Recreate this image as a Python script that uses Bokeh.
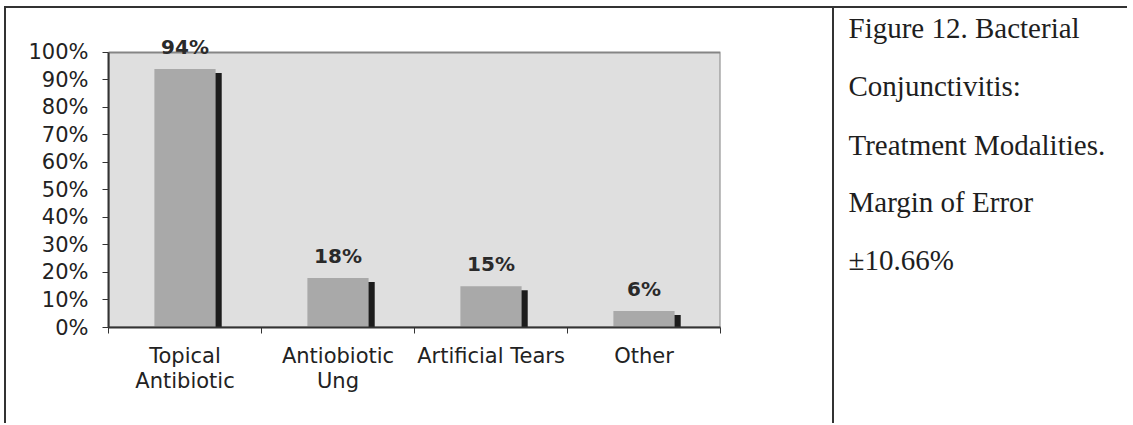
from bokeh.plotting import figure
from bokeh.layouts import row
from bokeh.models import (ColumnDataSource, FixedTicker, NumeralTickFormatter, LabelSet,
                          Label, Range1d)
from bokeh.transform import dodge
from bokeh.core.properties import value
from bokeh.embed import file_html
from bokeh.resources import INLINE

# ---- data ----
categories = ["Topical\nAntibiotic", "Antiobiotic\nUng", "Artificial Tears", "Other"]
values = [0.94, 0.18, 0.15, 0.06]
value_labels = ["94%", "18%", "15%", "6%"]
y_ticks = [0.0, 0.1, 0.2, 0.3, 0.4, 0.5, 0.6, 0.7, 0.8, 0.9, 1.0]
caption_lines = ["Figure 12. Bacterial", "Conjunctivitis:", "Treatment Modalities.",
                 "Margin of Error", "\u00b110.66%"]

positions = [i + 0.5 for i in range(len(categories))]
boundaries = list(range(len(categories) + 1))
src = ColumnDataSource(dict(x=positions, top=values, label=value_labels))

BORDER = "2px solid #333333"
H = 415
TOP, BOTTOM = 4, 96

p = figure(width=828, height=H, x_range=Range1d(0, len(categories)), y_range=Range1d(0, 1.145),
           output_backend="svg", toolbar_location=None,
           min_border_left=102, min_border_right=114, min_border_top=TOP,
           min_border_bottom=BOTTOM, styles={"border-left": BORDER})
p.background_fill_color = "white"
p.border_fill_color = "white"
p.outline_line_color = None
p.grid.visible = False

# plot area
p.quad(left=0, right=len(categories), bottom=0, top=1, fill_color="#dfdfdf",
       line_color="#858585", line_width=2)
# shadow bars
p.vbar(x=dodge("x", 0.04), top=dodge("top", -0.015), bottom=-0.02, width=0.4,
       source=src, fill_color="#1c1c1c", line_color=None)
# main bars
p.vbar(x="x", top="top", bottom=0, width=0.4, source=src,
       fill_color="#a9a9a9", line_color=None)

labels = LabelSet(x="x", y="top", text="label", source=src, text_align="center",
                  text_baseline="alphabetic", y_offset=15,
                  text_font=value("DejaVu Sans"), text_font_size=value("20px"),
                  text_font_style=value("bold"), text_color=value("#2a2a2a"))
p.add_layout(labels)

# y axis
ya = p.yaxis[0]
ya.ticker = FixedTicker(ticks=y_ticks)
ya.formatter = NumeralTickFormatter(format="0%")
ya.bounds = (0, 1)
ya.major_tick_out = 6
ya.major_tick_in = 0
ya.minor_tick_out = 0
ya.minor_tick_in = 0
ya.axis_line_color = "#333333"
ya.axis_line_width = 2
ya.major_tick_line_color = "#333333"
ya.major_label_standoff = 14
ya.major_label_text_font = "DejaVu Sans"
ya.major_label_text_font_size = "21px"
ya.major_label_text_color = "#222222"

# x axis
xa = p.xaxis[0]
xa.ticker = FixedTicker(ticks=positions, minor_ticks=boundaries)
xa.major_label_overrides = {pos: cat for pos, cat in zip(positions, categories)}
xa.major_tick_out = 0
xa.major_tick_in = 0
xa.minor_tick_out = 6
xa.minor_tick_in = 0
xa.minor_tick_line_color = "#333333"
xa.axis_line_color = "#333333"
xa.axis_line_width = 2
xa.major_label_standoff = 10
xa.major_label_text_font = "DejaVu Sans"
xa.major_label_text_font_size = "21px"
xa.major_label_text_line_height = 1.05
xa.major_label_text_color = "#222222"

# caption panel (frame aligned with the chart frame by the row layout)
FH = H - TOP - BOTTOM
c = figure(width=295, height=H, x_range=Range1d(0, 295), y_range=Range1d(FH, 0),
           output_backend="svg", toolbar_location=None, x_axis_type=None, y_axis_type=None,
           min_border_left=0, min_border_right=0, min_border_top=TOP,
           min_border_bottom=BOTTOM, styles={"border-left": BORDER})
c.outline_line_color = None
c.grid.visible = False
c.background_fill_color = "white"
c.border_fill_color = "white"
baselines = [15, 73, 132, 189, 247]
for txt, yb in zip(caption_lines, baselines):
    c.add_layout(Label(x=14, y=yb, text=txt, text_font="Liberation Serif",
                       text_font_size="29px", text_color="#1e1e1e",
                       text_baseline="alphabetic"))

layout = row(p, c, margin=(6, 0, 0, 4), styles={"border-top": BORDER})

open("out.html", "w").write(file_html(layout, INLINE))
